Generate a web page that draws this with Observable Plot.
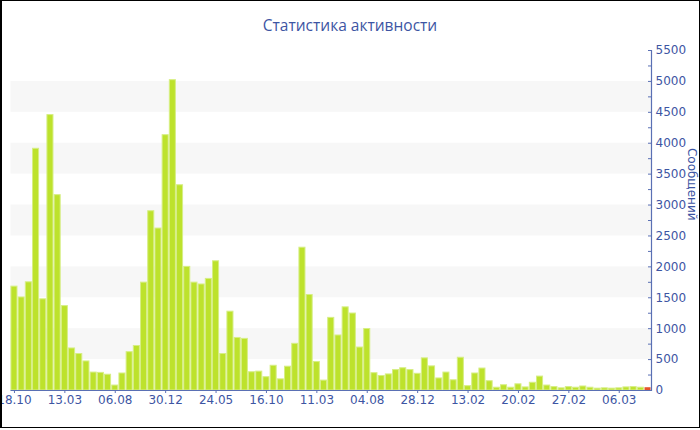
<!DOCTYPE html>
<html>
<head>
<meta charset="utf-8">
<script src="https://cdn.jsdelivr.net/npm/d3@7"></script>
<script src="https://cdn.jsdelivr.net/npm/@observablehq/plot@0.6"></script>
<style>
  html, body { margin: 0; padding: 0; background: #fff; }
  #wrap { position: relative; width: 700px; height: 430px; overflow: hidden; }
  #title { height: 40px; width: 700px; text-align: center; font-family: "Open Sans", sans-serif; font-size: 15.5px; color: #3d55a3; line-height: 50px; }
  #chart svg { display: block; }
  #border { position: absolute; left: 0; top: 0; width: 700px; height: 428px; box-sizing: border-box; border: 1px solid #000; border-left-width: 2px; pointer-events: none; }
</style>
</head>
<body>
<div id="wrap">
  <div id="title">Статистика активности</div>
  <div id="chart"></div>
  <div id="border"></div>
</div>
<script>
// Message counts per period
const values = [
  1680, 1505, 1750, 3910, 1475, 4455, 3160, 1365, 680, 590,
  470, 290, 285, 255, 80, 275, 620, 720, 1745, 2900,
  2620, 4130, 5020, 3320, 2000, 1745, 1715, 1805, 2090, 590,
  1275, 850, 835, 295, 305, 215, 400, 180, 385, 755,
  2310, 1545, 460, 160, 1175, 890, 1345, 1245, 695, 995,
  280, 235, 260, 330, 360, 330, 270, 520, 390, 195,
  290, 165, 530, 70, 275, 355, 150, 45, 85, 45,
  100, 50, 125, 225, 80, 55, 35, 55, 45, 65,
  45, 30, 35, 30, 35, 50, 55, 45, 45
];
// x tick labels and the bar they sit under
const tickLabels = ["18.10", "13.03", "06.08", "30.12", "24.05", "16.10", "11.03", "04.08", "28.12", "13.02", "20.02", "27.02", "06.03"];
const tickAt = [0, 7, 14, 21, 28, 35, 42, 49, 56, 63, 70, 77, 84];
const yMajor = [0, 500, 1000, 1500, 2000, 2500, 3000, 3500, 4000, 4500, 5000, 5500];
const yMinor = [250, 750, 1250, 1750, 2250, 2750, 3250, 3750, 4250, 4750, 5250];
const stripes = [[500, 1000], [1500, 2000], [2500, 3000], [3500, 4000], [4500, 5000]];
const yLabel = "Сообщений";

const data = values.map((v, i) => ({i, v}));
const last = data.length - 1;
const blue = "#3d55a3";
const axisBlue = "#5a70b4";

const plot = Plot.plot({
  width: 700,
  height: 390,
  marginLeft: 10.5,
  marginRight: 49,
  marginTop: 10,
  marginBottom: 40,
  style: {fontFamily: "DejaVu Sans, sans-serif", fontSize: "11px", color: blue, background: "transparent", overflow: "visible"},
  x: {type: "band", domain: data.map(d => d.i), paddingInner: 0.16, paddingOuter: 0.06, round: false, axis: null},
  y: {domain: [0, 5500], axis: null},
  marks: [
    Plot.rect(stripes, {y1: d => d[0], y2: d => d[1], fill: "#f7f7f7"}),
    Plot.barY(data.filter(d => d.i !== last), {x: "i", y: "v", fill: "#bde22c", stroke: "#d6ee84", strokeWidth: 1}),
    Plot.barY(data.filter(d => d.i === last), {x: "i", y: "v", fill: "#e5532b"}),
    Plot.ruleY([0], {stroke: axisBlue, strokeWidth: 1.2}),
    Plot.frame({anchor: "right", stroke: axisBlue, strokeWidth: 1.2}),
    Plot.axisX({ticks: tickAt, tickFormat: i => tickLabels[tickAt.indexOf(i)], tickSize: 3, tickPadding: 2, stroke: axisBlue, fill: blue, label: null, fontSize: 12}),
    Plot.axisY({anchor: "right", ticks: yMajor, tickSize: 4, dx: -4, tickPadding: 4, stroke: axisBlue, fill: blue, label: null, tickFormat: d => String(d), fontSize: 12}),
    Plot.axisY({anchor: "right", ticks: yMinor, tickSize: 4, dx: -4, stroke: axisBlue, label: null, tickFormat: () => ""}),
    Plot.text([yLabel], {text: d => d, frameAnchor: "right", dx: 40, rotate: 90, fill: blue, fontSize: 12})
  ]
});
document.getElementById("chart").appendChild(plot);
</script>
</body>
</html>
